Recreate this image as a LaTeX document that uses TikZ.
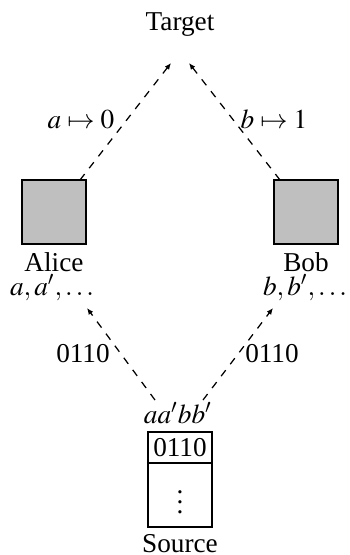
\documentclass[tikz,border=0pt]{standalone}
\usepackage{mathptmx}
\usepackage{fontspec}
\setmainfont{Liberation Serif}
\usetikzlibrary{arrows.meta}
\begin{document}
\begin{tikzpicture}[x=0.4pt,y=-0.4pt,font=\fontsize{10.9}{13}\selectfont,
  lbl/.style={inner sep=0pt,anchor=base},
  party/.style={draw,line width=0.8pt,fill=gray!50,minimum width=25.6pt,minimum height=25.6pt,inner sep=0pt},
  cell/.style={draw,line width=0.8pt,minimum width=25.6pt,inner sep=0pt},
  link/.style={dashed,line width=0.5pt,-{Latex[length=2.6pt,width=2.2pt]}}]
\useasboundingbox (0,0) rectangle (350,555);
\node[lbl] (target) at (180,30) {Target};
\coordinate (tl) at (171,63);
\coordinate (tr) at (189,63);
\node[party] (alice) at (54,212) {};
\node[party] (bob) at (306,212) {};
\coordinate (as) at (80,180);
\coordinate (bs) at (280,180);
\draw[link] (as) -- (tl);
\draw[link] (bs) -- (tr);
\node[lbl] (amap) at (81,128) {$a\mapsto 0$};
\node[lbl] (bmap) at (274,128) {$b\mapsto 1$};
\node[lbl] (aname) at (54,271) {Alice};
\node[lbl] (bname) at (306,271) {Bob};
\node[lbl] (aseq) at (52,295) {$a,a',\ldots$};
\node[lbl] (bseq) at (305,295) {$b,b',\ldots$};
\node[lbl] (bits) at (178,423) {$aa'bb'$};
\coordinate (ls) at (155,400);
\coordinate (rs) at (203,400);
\coordinate (la) at (87,308);
\coordinate (ra) at (273,308);
\draw[link] (ls) -- (la);
\draw[link] (rs) -- (ra);
\node[lbl] (lbits) at (83,362) {0110};
\node[lbl] (rbits) at (272,362) {0110};
\node[cell,minimum height=38pt] (src) at (180,479.5) {};
\coordinate (div) at (180,463);
\draw[line width=0.8pt] (src.west |- div) -- (src.east |- div);
\node[inner sep=0pt] (srctop) at (180,448) {0110};
\node[inner sep=0pt] (srcdots) at (180,495) {$\vdots$};
\node[lbl] (source) at (180,552) {Source};
\end{tikzpicture}
\end{document}
